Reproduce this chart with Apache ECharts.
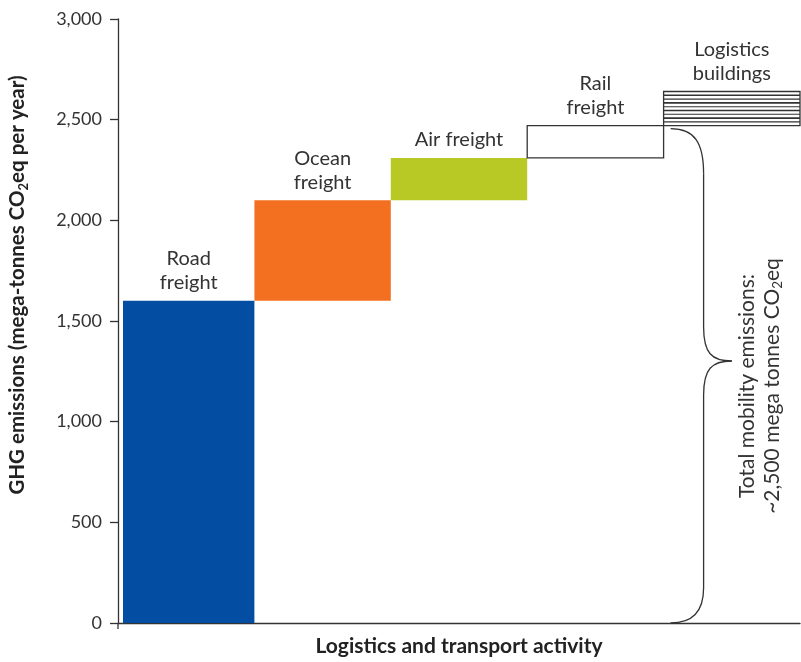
<!DOCTYPE html>
<html>
<head>
<meta charset="utf-8">
<script src="https://cdn.jsdelivr.net/npm/echarts@6/dist/echarts.min.js"></script>
<style>
html,body{margin:0;padding:0;background:#fff;}
#chart{width:801px;height:662px;}
</style>
</head>
<body>
<div id="chart"></div>
<script>
const categories = ['Road\nfreight', 'Ocean\nfreight', 'Air freight', 'Rail\nfreight', 'Logistics\nbuildings'];
const increments = [1600, 500, 210, 160, 170];
const barColors = ['#034EA2', '#F37021', '#B8C825', '#FFFFFF', '#FFFFFF'];
const barBorders = [false, false, false, true, true];
const hatched = [false, false, false, false, true];
const yTicks = [0, 500, 1000, 1500, 2000, 2500, 3000];
const totalLabel = ['Total mobility emissions:', '~2,500 mega tonnes CO', 'eq'];

const FONT = 'Lato';
const TXT = '#333333';
const FIRST_BAR_INSET = 5;

// waterfall: base and top of each bar
const bars = [];
let run = 0;
increments.forEach((v, i) => { bars.push([i, run, run + v]); run += v; });

const chart = echarts.init(document.getElementById('chart'));

function renderItem(params, api) {
  const i = api.value(0);
  const p0 = api.coord([i, api.value(1)]);
  const p1 = api.coord([i, api.value(2)]);
  let w = api.size([1, 0])[0];
  let x = p0[0] - w / 2;
  if (i === 0) { x += FIRST_BAR_INSET; w -= FIRST_BAR_INSET; }
  const h = p0[1] - p1[1];
  const children = [];
  children.push({
    type: 'rect',
    shape: { x: x, y: p1[1], width: w, height: h },
    style: {
      fill: barColors[i],
      stroke: barBorders[i] ? '#333' : null,
      lineWidth: barBorders[i] ? 1.3 : 0
    }
  });
  if (hatched[i]) {
    const n = 9;
    for (let k = 1; k < n; k++) {
      const yy = p1[1] + h * k / n;
      children.push({
        type: 'line',
        shape: { x1: x, y1: yy, x2: x + w, y2: yy },
        style: { stroke: '#333', lineWidth: (k % 2 === 1) ? 1.6 : 1.1 }
      });
    }
  }
  children.push({
    type: 'text',
    style: {
      text: categories[i],
      x: x + w / 2,
      y: p1[1] - 6,
      align: 'center',
      verticalAlign: 'bottom',
      font: '20px ' + FONT,
      lineHeight: 24,
      fill: TXT
    }
  });
  return { type: 'group', children: children };
}

const option = {
  animation: false,
  backgroundColor: '#ffffff',
  grid: { left: 118, right: 1, top: 19, bottom: 36 },
  xAxis: {
    type: 'category',
    data: categories,
    boundaryGap: true,
    axisLine: { show: true, lineStyle: { color: '#333', width: 1.3 } },
    axisTick: { show: false },
    axisLabel: { show: false },
    splitLine: { show: false },
    name: 'Logistics and transport activity',
    nameLocation: 'middle',
    nameGap: 13,
    nameTextStyle: { fontFamily: FONT, fontSize: 21, fontWeight: 'bold', color: '#222', verticalAlign: 'top' }
  },
  yAxis: {
    type: 'value',
    min: 0,
    max: 3000,
    interval: 500,
    axisLine: { show: true, lineStyle: { color: '#333', width: 1.3 } },
    axisTick: { show: true, length: 8, lineStyle: { color: '#333', width: 1.3 } },
    splitLine: { show: false },
    axisLabel: {
      fontFamily: FONT, fontSize: 18, color: TXT, margin: 16,
      formatter: v => yTicks.indexOf(v) >= 0 ? v.toLocaleString('en-US') : ''
    }
  },
  series: [{
    type: 'custom',
    renderItem: renderItem,
    encode: { x: 0, y: [1, 2] },
    data: bars,
    clip: false
  }]
};
chart.setOption(option);

// annotations: y-axis title, brace and total label
const rich = {
  b: { fontFamily: FONT, fontSize: 20.5, fontWeight: 'bold', fill: '#222', lineHeight: 26 },
  bs: { fontFamily: FONT, fontSize: 13, fontWeight: 'bold', fill: '#222', lineHeight: 10, verticalAlign: 'bottom' },
  r: { fontFamily: FONT, fontSize: 21, fill: TXT, lineHeight: 25 },
  rs: { fontFamily: FONT, fontSize: 13.5, fill: TXT, lineHeight: 9, verticalAlign: 'bottom' }
};

const xC4 = chart.convertToPixel({ xAxisIndex: 0 }, 4);
const xC3 = chart.convertToPixel({ xAxisIndex: 0 }, 3);
const xC0 = chart.convertToPixel({ xAxisIndex: 0 }, 0);
const band = xC4 - xC3;
const yAxisX = xC0 - band / 2;
const yBottom = chart.convertToPixel({ yAxisIndex: 0 }, 0);
const yTop = chart.convertToPixel({ yAxisIndex: 0 }, bars[3][2]) + 3;
const xEnd = xC4 - band / 2 + 7;
const xV = xEnd + 33;
const xTip = xC4;
const yMid = yTop + (yBottom - yTop) * 0.47;
const r = 34;
const stroke = { fill: null, stroke: '#333', lineWidth: 1.3 };

chart.setOption({
  graphic: [
    {
      type: 'text',
      x: 17, y: 285,
      rotation: Math.PI / 2,
      style: {
        text: '{b|GHG emissions (mega-tonnes CO}{bs|2}{b|eq per year)}',
        rich: rich,
        align: 'center',
        verticalAlign: 'middle'
      }
    },
    { type: 'line', shape: { x1: yAxisX, y1: yBottom, x2: yAxisX, y2: yBottom + 6 }, style: stroke },
    { type: 'bezierCurve', shape: { x1: xEnd, y1: yTop, cpx1: xEnd + 24, cpy1: yTop, cpx2: xV, cpy2: yTop + 14, x2: xV, y2: yTop + 45 }, style: stroke },
    { type: 'line', shape: { x1: xV, y1: yTop + 45, x2: xV, y2: yMid - r }, style: stroke },
    { type: 'bezierCurve', shape: { x1: xV, y1: yMid - r, cpx1: xV, cpy1: yMid - 8, cpx2: xV + 8, cpy2: yMid, x2: xTip, y2: yMid }, style: stroke },
    { type: 'bezierCurve', shape: { x1: xTip, y1: yMid, cpx1: xV + 8, cpy1: yMid, cpx2: xV, cpy2: yMid + 8, x2: xV, y2: yMid + r }, style: stroke },
    { type: 'line', shape: { x1: xV, y1: yMid + r, x2: xV, y2: yBottom - 35 }, style: stroke },
    { type: 'bezierCurve', shape: { x1: xV, y1: yBottom - 35, cpx1: xV, cpy1: yBottom - 10, cpx2: xEnd + 20, cpy2: yBottom, x2: xEnd, y2: yBottom }, style: stroke },
    {
      type: 'text',
      x: 760, y: 386,
      rotation: Math.PI / 2,
      style: {
        text: '{r|' + totalLabel[0] + '}\n{r|' + totalLabel[1] + '}{rs|2}{r|' + totalLabel[2] + '}',
        rich: rich,
        align: 'center',
        verticalAlign: 'middle'
      }
    }
  ]
});
</script>
</body>
</html>
